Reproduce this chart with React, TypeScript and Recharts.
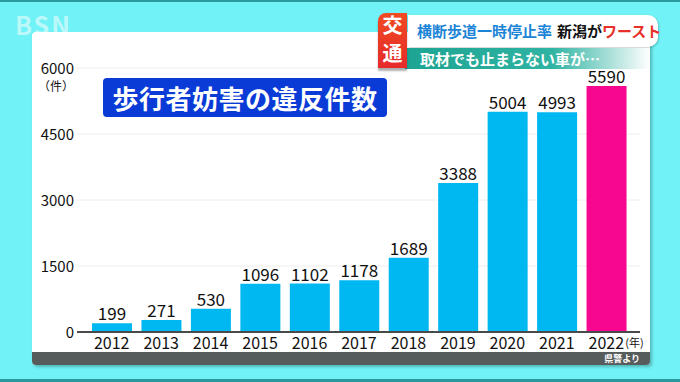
import React from "react";
import { BarChart, Bar, XAxis, YAxis, CartesianGrid, LabelList, Cell } from "recharts";

// 歩行者妨害の違反件数 (県警より)
const years = ["2012", "2013", "2014", "2015", "2016", "2017", "2018", "2019", "2020", "2021", "2022"];
const violations = [199, 271, 530, 1096, 1102, 1178, 1689, 3388, 5004, 4993, 5590];
const yTicks = [0, 1500, 3000, 4500, 6000];
const highlightYear = "2022";

const data = years.map((year, i) => ({ year, count: violations[i] }));

const FONT = "'Noto Sans CJK JP', 'Noto Sans', sans-serif";
const BLUE = "#00b8f1";
const PINK = "#f7078f";

const YTick = ({ x, y, payload }: any) => (
  <g>
    <text x={x} y={y} dy={6} textAnchor="end" fontSize={15} fill="#111" fontFamily={FONT}>
      {payload.value}
    </text>
    {payload.value === 6000 && (
      <text x={x - 36} y={y} dy={23} textAnchor="start" fontSize={12} fill="#111" fontFamily={FONT}>
        （件）
      </text>
    )}
  </g>
);

const XTick = ({ x, y, payload }: any) => (
  <g>
    <text x={x} y={y} dy={9} textAnchor="middle" fontSize={16} fill="#111" fontFamily={FONT}>
      {payload.value}
    </text>
    {payload.value === highlightYear && (
      <text x={x + 19} y={y} dy={7} textAnchor="start" fontSize={11} fill="#111" fontFamily={FONT}>
        (年)
      </text>
    )}
  </g>
);

export default function App() {
  return (
    <div
      style={{
        position: "absolute",
        left: 0,
        top: 0,
        width: 680,
        height: 382,
        background: "#70f2f6",
        overflow: "hidden",
        fontFamily: FONT,
      }}
    >
      <div style={{ position: "absolute", left: 0, top: 0, width: 680, height: 2, background: "#2a9a9e" }} />
      <div style={{ position: "absolute", left: 0, bottom: 0, width: 680, height: 3, background: "#2a9a9e" }} />

      {/* BSN logo */}
      <div
        style={{
          position: "absolute",
          left: 15,
          top: 9,
          fontSize: 25,
          fontWeight: 700,
          color: "rgba(255,255,255,0.55)",
          letterSpacing: 2,
          lineHeight: "30px",
        }}
      >
        BSN
      </div>

      {/* white panel */}
      <div
        style={{
          position: "absolute",
          left: 32,
          top: 32,
          width: 618,
          height: 333,
          background: "#ffffff",
          borderRadius: 4,
          boxShadow: "2px 2px 3px rgba(0,0,0,0.25)",
          overflow: "hidden",
        }}
      >
        <div
          style={{
            position: "absolute",
            left: 0,
            bottom: 0,
            width: 618,
            height: 13,
            background: "#565b5b",
            color: "#fff",
            fontSize: 9,
            fontWeight: 700,
            textAlign: "right",
            lineHeight: "13px",
            paddingRight: 10,
            boxSizing: "border-box",
          }}
        >
          県警より
        </div>
      </div>

      <div style={{ position: "absolute", left: 0, top: 0 }}>
        <BarChart
          width={680}
          height={382}
          data={data}
          margin={{ top: 68, right: 40, bottom: 20, left: 0 }}
        >
          <CartesianGrid vertical={false} stroke="#eeeeee" />
          <XAxis
            dataKey="year"
            height={30}
            padding={{ left: 10, right: 9 }}
            tickLine={false}
            axisLine={{ stroke: "#4a4a4a", strokeWidth: 2 }}
            tick={<XTick />}
            interval={0}
          />
          <YAxis
            width={77}
            domain={[0, 6000]}
            ticks={yTicks}
            tickLine={false}
            axisLine={false}
            tickSize={0}
            tickMargin={3}
            tick={<YTick />}
            interval={0}
          />
          <Bar dataKey="count" barSize={40} isAnimationActive={false}>
            {data.map((d) => (
              <Cell key={d.year} fill={d.year === highlightYear ? PINK : BLUE} />
            ))}
            <LabelList
              dataKey="count"
              position="top"
              offset={3}
              fontSize={17}
              fill="#111"
              fontFamily={FONT}
            />
          </Bar>
        </BarChart>
      </div>

      {/* title */}
      <div
        style={{
          position: "absolute",
          left: 103,
          top: 78,
          width: 284,
          height: 39,
          background: "#0b3bd6",
          borderRadius: 4,
          color: "#fff",
          fontSize: 26,
          fontWeight: 700,
          lineHeight: "39px",
          textAlign: "center",
          letterSpacing: 0.5,
        }}
      >
        歩行者妨害の違反件数
      </div>

      {/* headline */}
      <div
        style={{
          position: "absolute",
          left: 408,
          top: 15,
          width: 250,
          height: 32,
          background: "#ffffff",
          borderRadius: "0 10px 10px 0",
          boxShadow: "1px 1px 2px rgba(0,0,0,0.2)",
        }}
      />
      <div
        style={{
          position: "absolute",
          left: 417,
          top: 22,
          fontSize: 15,
          fontWeight: 700,
          lineHeight: "18px",
          whiteSpace: "nowrap",
        }}
      >
        <span style={{ color: "#1b84d6" }}>横断歩道一時停止率</span>
        <span style={{ color: "#111", marginLeft: 5 }}>新潟が</span>
        <span style={{ color: "#e8302a" }}>ワースト</span>
      </div>
      <div
        style={{
          position: "absolute",
          left: 405,
          top: 48,
          width: 245,
          height: 21,
          background: "linear-gradient(90deg, #1ea493 0%, #2fb3a2 60%, rgba(255,255,255,0.9) 100%)",
        }}
      />
      <div
        style={{
          position: "absolute",
          left: 420,
          top: 50,
          color: "#fff",
          fontSize: 15,
          fontWeight: 700,
          lineHeight: "17px",
          whiteSpace: "nowrap",
        }}
      >
        取材でも止まらない車が…
      </div>
      <div
        style={{
          position: "absolute",
          left: 378,
          top: 13,
          width: 29,
          height: 55,
          background: "linear-gradient(180deg, #f04a22 0%, #e62a2a 100%)",
          borderRadius: "8px 0 0 0",
          boxShadow: "0 3px 2px rgba(0,0,0,0.3)",
        }}
      />
      <div
        style={{
          position: "absolute",
          left: 378,
          top: 15,
          width: 29,
          textAlign: "center",
          color: "#fff",
          fontSize: 20,
          fontWeight: 700,
          lineHeight: "20px",
        }}
      >
        交
      </div>
      <div
        style={{
          position: "absolute",
          left: 378,
          top: 43,
          width: 29,
          textAlign: "center",
          color: "#fff",
          fontSize: 20,
          fontWeight: 700,
          lineHeight: "20px",
        }}
      >
        通
      </div>
    </div>
  );
}
